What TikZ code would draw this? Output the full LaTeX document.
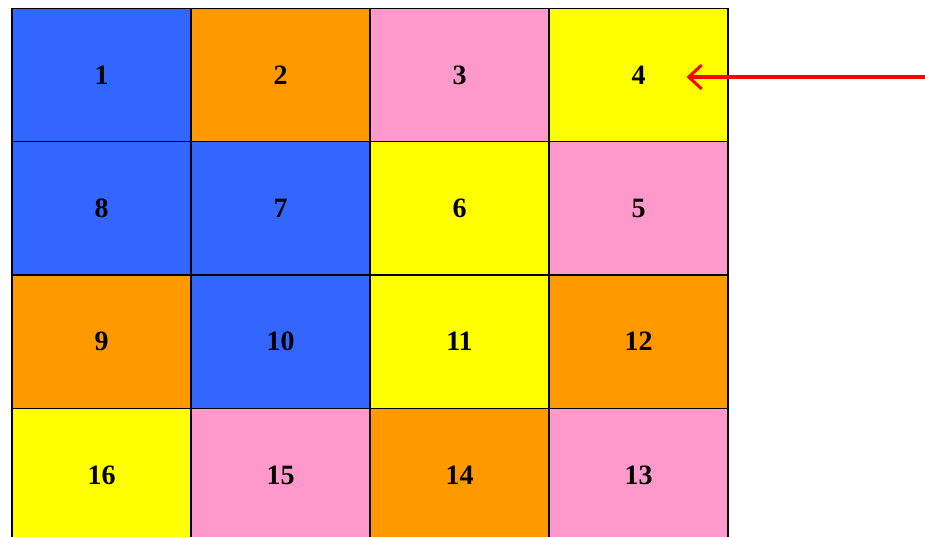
\documentclass[tikz,border=0pt]{standalone}
\usepackage{fontspec}
\setmainfont{Liberation Serif}
\usetikzlibrary{arrows.meta, positioning}
\definecolor{cblue}{HTML}{3366FF}
\definecolor{corange}{HTML}{FF9900}
\definecolor{cpink}{HTML}{FF99CC}
\definecolor{cyellow}{HTML}{FFFF00}
\definecolor{cred}{HTML}{FF0000}
\tikzset{
  cell/.style={draw=black, fill=#1, line width=1.2pt, minimum width=179pt, minimum height=133.3pt,
    inner sep=0pt, font=\fontsize{28}{30}\selectfont\bfseries},
  cell/.default=white,
  arrow/.style={-{Straight Barb[length=13pt, width=24pt, line width=3pt]}, draw=cred, line width=3.5pt},
}
\begin{document}
\begin{tikzpicture}[x=1pt, y=-1pt]
  \useasboundingbox (0,0) rectangle (925,536);
  \clip (0,0) rectangle (925,536);
  % snake-numbered grid
  \foreach \n/\col/\row/\c in {1/0/0/cblue, 2/1/0/corange, 3/2/0/cpink, 4/3/0/cyellow,
      8/0/1/cblue, 7/1/1/cblue, 6/2/1/cyellow, 5/3/1/cpink,
      9/0/2/corange, 10/1/2/cblue, 11/2/2/cyellow, 12/3/2/corange,
      16/0/3/cyellow, 15/1/3/cpink, 14/2/3/corange, 13/3/3/cpink}
    \node[cell=\c] (c\n) at ({101.5+179*\col},{75+133.3*\row}) {\raisebox{-2.5pt}{\n}};
  % pointer
  \coordinate (tail) at (925,77);
  \draw[arrow] (tail) -- ([xshift=48pt, yshift=-2pt]c4.center);
\end{tikzpicture}
\end{document}
